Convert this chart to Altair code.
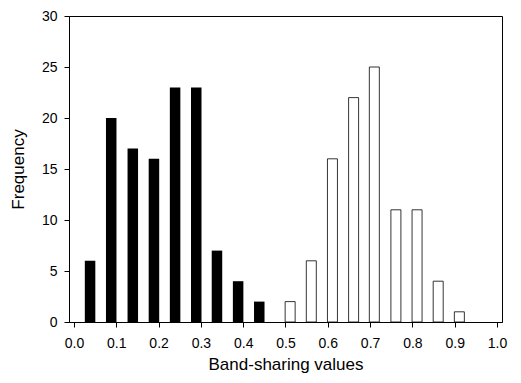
import altair as alt
import pandas as pd

# Black (first group) histogram bars
black_x = [0.038, 0.088, 0.139, 0.189, 0.239, 0.289, 0.338, 0.388, 0.438]
black_freq = [6, 20, 17, 16, 23, 23, 7, 4, 2]

# White (second group) histogram bars
white_x = [0.511, 0.561, 0.611, 0.661, 0.710, 0.761, 0.811, 0.861, 0.911]
white_freq = [2, 6, 16, 22, 25, 11, 11, 4, 1]

x_ticks = [0.0, 0.1, 0.2, 0.3, 0.4, 0.5, 0.6, 0.7, 0.8, 0.9, 1.0]
y_ticks = [0, 5, 10, 15, 20, 25, 30]

df_black = pd.DataFrame({"x": black_x, "freq": black_freq})
df_white = pd.DataFrame({"x": white_x, "freq": white_freq})

FONT = "Liberation Sans"

x_enc = alt.X(
    "x:Q",
    scale=alt.Scale(domain=[0, 1], nice=False, zero=False),
    axis=alt.Axis(
        title="Band-sharing values",
        values=x_ticks,
        format=".1f",
        grid=False,
        tickSize=5,
        labelPadding=9,
        titlePadding=6,
    ),
)
y_enc = alt.Y(
    "freq:Q",
    scale=alt.Scale(domain=[0, 30], nice=False),
    axis=alt.Axis(
        title="Frequency",
        values=y_ticks,
        grid=False,
        tickSize=5,
        labelPadding=7,
        titlePadding=14,
    ),
)

black = alt.Chart(df_black).mark_bar(size=10.5, color="black").encode(x=x_enc, y=y_enc)
white = alt.Chart(df_white).mark_bar(
    size=10, fill="white", stroke="black", strokeWidth=0.8
).encode(x=x_enc, y=y_enc)

chart = (
    alt.layer(black, white)
    .properties(
        width=433,
        height=306,
        autosize=alt.AutoSizeParams(type="none"),
        padding={"left": 61, "top": 8, "right": 11, "bottom": 53},
    )
    .configure_view(stroke="black", strokeWidth=1)
    .configure_axis(
        domainColor="black",
        tickColor="black",
        labelColor="black",
        titleColor="black",
        labelFont=FONT,
        titleFont=FONT,
        labelFontSize=14,
        titleFontSize=17,
        titleFontWeight="normal",
    )
)

chart.save("out.html", embed_options={"renderer": "svg", "actions": False})
